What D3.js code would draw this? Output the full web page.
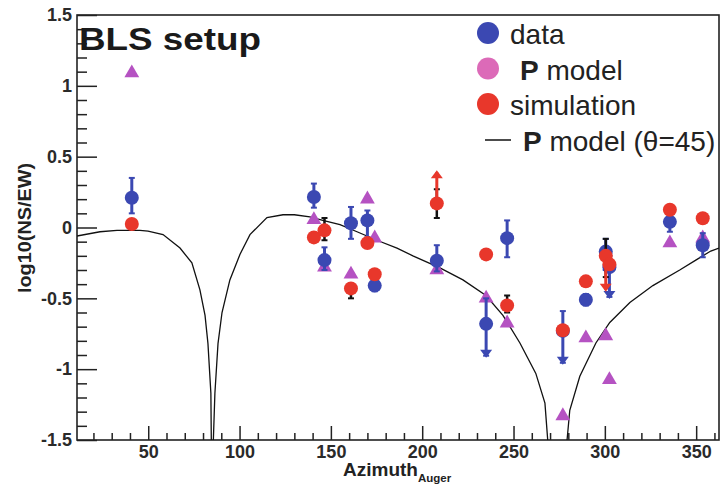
<!DOCTYPE html>
<html>
<head>
<meta charset="utf-8">
<script src="https://cdn.jsdelivr.net/npm/d3@7"></script>
<style>
  body { margin: 0; background: #fff; }
  text { font-family: "Liberation Sans", Arial, sans-serif; }
</style>
</head>
<body>
<div id="chart"></div>
<script>
// azimuth of each event
const azimuth = [41, 140.7, 146.5, 161, 170, 174, 208, 235, 246.5, 277, 289.6, 300.5, 302.5, 335.6, 353.6];

// data (blue) with error bars, arrow = bar end is a limit
const dataVal = [0.21, 0.215, -0.23, 0.03, 0.05, -0.41, -0.235, -0.68, -0.075, -0.73, -0.51, -0.17, -0.28, 0.04, -0.125];
const dataLo  = [0.10, 0.14, -0.30, -0.08, -0.07, -0.45, -0.31, -0.905, -0.21, -0.955, -0.55, -0.30, -0.49, -0.03, -0.21];
const dataHi  = [0.35, 0.31, -0.14, 0.145, 0.12, -0.37, -0.125, -0.50, 0.05, -0.59, -0.47, -0.08, -0.20, 0.085, -0.04];
const dataArrow = [0, 0, 0, 0, 0, 0, 0, 1, 0, 1, 0, 0, 1, 0, 0];

// P model (triangles)
const pModelVal = [1.09, 0.055, -0.28, -0.33, 0.2, -0.075, -0.3, -0.5, -0.675, -1.33, -0.78, -0.765, -1.075, -0.11, -0.075];

// simulation (red), black error bars where visible
const simVal = [0.025, -0.07, -0.02, -0.43, -0.11, -0.33, 0.17, -0.19, -0.55, -0.725, -0.38, -0.2, -0.26, 0.125, 0.065];
const simLo  = [null, null, -0.09, -0.5, null, null, 0.067, null, -0.6, null, null, -0.35, null, null, null];
const simHi  = [null, null, 0.067, -0.4, null, null, 0.27, null, -0.48, null, null, -0.08, null, null, null];
// red arrows (limits)
const simArrowTo = [null, null, null, null, null, null, 0.39, null, null, null, null, -0.44, null, null, null];

// P model (theta=45) curve
const modelAz  = [11, 23.6, 32.9, 45.5, 49.9, 58.1, 67.4, 73.9, 78.3, 81.1, 82.7, 84.3, 84.6, 85.4, 86.5, 88.2, 90.4, 94.7, 100.2, 105.7, 115, 123.8, 130, 138.5, 145.6, 155, 164.3, 175.2, 186.2, 194.9, 209.7, 222.3, 234.9, 244.2, 253.5, 262.2, 267.2, 269.3, 278.6, 280.8, 286.3, 295.1, 302.7, 313.7, 326.3, 341, 349.8, 358, 362.5];
const modelVal = [-0.06, -0.03, -0.02, -0.02, -0.025, -0.05, -0.145, -0.25, -0.44, -0.62, -0.82, -1.17, -1.6, -1.6, -1.17, -0.82, -0.6, -0.37, -0.19, -0.05, 0.07, 0.09, 0.09, 0.075, 0.05, 0.02, -0.03, -0.09, -0.145, -0.2, -0.285, -0.37, -0.48, -0.62, -0.815, -1.03, -1.24, -1.6, -1.6, -1.29, -1.05, -0.815, -0.67, -0.53, -0.41, -0.3, -0.23, -0.166, -0.145];

const xMajor = [50, 100, 150, 200, 250, 300, 350];
const yMajor = [-1.5, -1, -0.5, 0, 0.5, 1, 1.5];

const W = 726, H = 486;
const plot = { left: 77, top: 15, right: 719, bottom: 440 };

const blue = "#3b48b2", red = "#e8372b", purple = "#b552c2", pink = "#dc6ab8";

const svg = d3.select("#chart").append("svg")
    .attr("width", W)
    .attr("height", H);

const x = d3.scaleLinear().domain([11, 362.5]).range([plot.left, plot.right]);
const y = d3.scaleLinear().domain([-1.5, 1.5]).range([plot.bottom, plot.top]);

svg.append("defs").append("clipPath").attr("id", "clip")
    .append("rect")
    .attr("x", plot.left).attr("y", plot.top)
    .attr("width", plot.right - plot.left)
    .attr("height", plot.bottom - plot.top);

// axes, ticks pointing inward
const xMinor = d3.range(20, 361, 10).filter(v => v % 50 !== 0);
const yMinor = d3.range(-14, 15).map(v => v / 10).filter(v => Math.round(v * 10) % 5 !== 0);

svg.append("g")
    .attr("transform", `translate(0,${plot.bottom})`)
    .call(d3.axisBottom(x).tickValues(xMinor).tickSize(-7).tickFormat(""))
    .call(g => g.select(".domain").remove());

svg.append("g")
    .attr("class", "xaxis")
    .attr("transform", `translate(0,${plot.bottom})`)
    .call(d3.axisBottom(x).tickValues(xMajor).tickSize(-14).tickPadding(5).tickFormat(d => d))
    .call(g => g.select(".domain").remove());

svg.append("g")
    .attr("transform", `translate(${plot.left},0)`)
    .call(d3.axisLeft(y).tickValues(yMinor).tickSize(-10).tickFormat(""))
    .call(g => g.select(".domain").remove());

svg.append("g")
    .attr("class", "yaxis")
    .attr("transform", `translate(${plot.left},0)`)
    .call(d3.axisLeft(y).tickValues(yMajor).tickSize(-20).tickPadding(5).tickFormat(d => String(d)))
    .call(g => g.select(".domain").remove());

svg.selectAll(".tick line").attr("stroke", "#222").attr("stroke-width", 1.5);
svg.selectAll(".xaxis text, .yaxis text")
    .attr("font-size", 18)
    .attr("font-weight", "bold")
    .attr("fill", "#2a2a2a")
    .attr("font-family", "Liberation Sans, Arial, sans-serif");

// frame
svg.append("rect")
    .attr("x", plot.left).attr("y", plot.top)
    .attr("width", plot.right - plot.left)
    .attr("height", plot.bottom - plot.top)
    .attr("fill", "none")
    .attr("stroke", "#222")
    .attr("stroke-width", 1.6);

// model curve
const line = d3.line().x((d, i) => x(modelAz[i])).y(d => y(d));
svg.append("path")
    .datum(modelVal)
    .attr("clip-path", "url(#clip)")
    .attr("d", line)
    .attr("fill", "none")
    .attr("stroke", "#111")
    .attr("stroke-width", 1.3);

const pts = svg.append("g").attr("clip-path", "url(#clip)");

// triangles
pts.selectAll(".tri")
    .data(pModelVal)
    .join("path")
    .attr("transform", (d, i) => `translate(${x(azimuth[i])},${y(d)})`)
    .attr("d", d3.symbol(d3.symbolTriangle, 95))
    .attr("fill", purple);

// error bar helper
function errBar(g, xi, lo, hi, color, w) {
    g.append("line")
        .attr("x1", xi).attr("x2", xi)
        .attr("y1", y(lo)).attr("y2", y(hi))
        .attr("stroke", color).attr("stroke-width", w);
    [lo, hi].forEach(v => g.append("line")
        .attr("x1", xi - 3).attr("x2", xi + 3)
        .attr("y1", y(v)).attr("y2", y(v))
        .attr("stroke", color).attr("stroke-width", 2));
}

function arrowHead(g, xi, v, dir, color) {
    // dir = 1 down, -1 up
    const yy = y(v);
    g.append("path")
        .attr("d", `M${xi - 6},${yy - 6 * dir}L${xi + 6},${yy - 6 * dir}L${xi},${yy + 2 * dir}Z`)
        .attr("fill", color);
}

// blue data
azimuth.forEach((a, i) => {
    const xi = x(a);
    errBar(pts, xi, dataLo[i], dataHi[i], blue, 3);
    if (dataArrow[i]) arrowHead(pts, xi, dataLo[i], 1, blue);
});
pts.selectAll(".blue")
    .data(dataVal)
    .join("circle")
    .attr("cx", (d, i) => x(azimuth[i]))
    .attr("cy", d => y(d))
    .attr("r", 7)
    .attr("fill", blue);

// simulation
azimuth.forEach((a, i) => {
    const xi = x(a);
    if (simLo[i] !== null) errBar(pts, xi, simLo[i], simHi[i], "#111", 2.5);
    if (simArrowTo[i] !== null) {
        const dir = simArrowTo[i] < simVal[i] ? 1 : -1;
        pts.append("line")
            .attr("x1", xi).attr("x2", xi)
            .attr("y1", y(simVal[i])).attr("y2", y(simArrowTo[i]))
            .attr("stroke", red).attr("stroke-width", 3);
        arrowHead(pts, xi, simArrowTo[i], dir, red);
    }
});
pts.selectAll(".red")
    .data(simVal)
    .join("circle")
    .attr("cx", (d, i) => x(azimuth[i]))
    .attr("cy", d => y(d))
    .attr("r", 7)
    .attr("fill", red);

// title
svg.append("text")
    .attr("x", 79).attr("y", 50)
    .attr("font-size", 31)
    .attr("font-weight", "bold")
    .attr("fill", "#1a1a1a")
    .attr("textLength", 182)
    .attr("lengthAdjust", "spacingAndGlyphs")
    .text("BLS setup");

// legend
const legend = [
    { label: "data", color: blue },
    { label: "P model", color: pink, bold: true },
    { label: "simulation", color: red }
];
legend.forEach((d, i) => {
    const cy = 33 + i * 35.5;
    svg.append("circle").attr("cx", 488).attr("cy", cy).attr("r", 11).attr("fill", d.color);
    const t = svg.append("text")
        .attr("x", d.bold ? 520 : 510).attr("y", cy + 11)
        .attr("font-size", 28).attr("fill", "#222");
    if (d.bold) {
        t.append("tspan").attr("font-weight", "bold").text("P");
        t.append("tspan").text(" model");
    } else {
        t.text(d.label);
    }
});
svg.append("line")
    .attr("x1", 485).attr("x2", 511)
    .attr("y1", 140).attr("y2", 140)
    .attr("stroke", "#111").attr("stroke-width", 1.5);
const lt = svg.append("text").attr("x", 523).attr("y", 151).attr("font-size", 28).attr("fill", "#222");
lt.append("tspan").attr("font-weight", "bold").text("P");
lt.append("tspan").text(" model (θ=45)");

// axis titles
svg.append("text")
    .attr("transform", "translate(31,228) rotate(-90)")
    .attr("text-anchor", "middle")
    .attr("font-size", 18)
    .attr("font-weight", "bold")
    .attr("fill", "#222")
    .attr("textLength", 130)
    .attr("lengthAdjust", "spacingAndGlyphs")
    .text("log10(NS/EW)");

const xt = svg.append("text").attr("x", 343).attr("y", 476).attr("font-weight", "bold").attr("fill", "#222");
xt.append("tspan").attr("font-size", 19).text("Azimuth");
xt.append("tspan").attr("font-size", 11.5).attr("dy", 6).text("Auger");
</script>
</body>
</html>
